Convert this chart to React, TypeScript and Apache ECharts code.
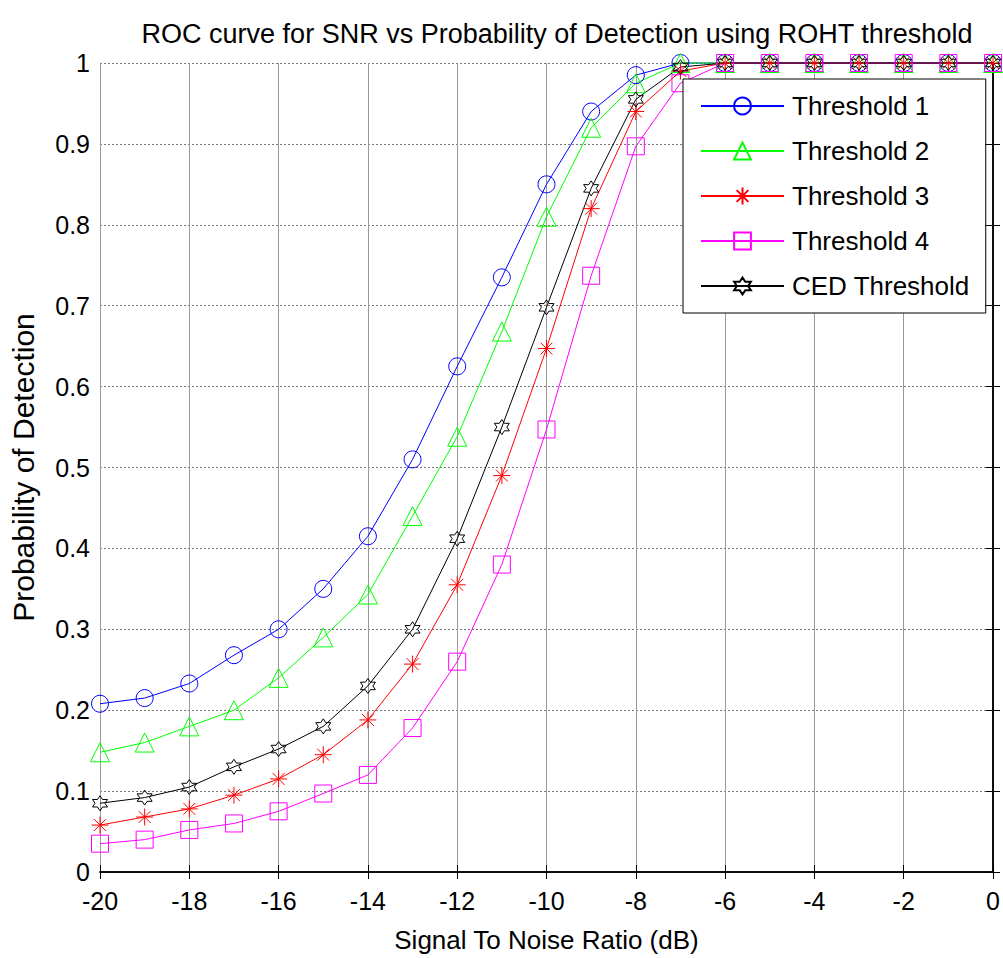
import React, { useEffect, useRef } from "react";
import * as echarts from "echarts";

const snr = [-20, -19, -18, -17, -16, -15, -14, -13, -12, -11, -10, -9, -8, -7, -6, -5, -4, -3, -2, -1, 0];
const threshold1 = [0.208, 0.215, 0.233, 0.268, 0.3, 0.35, 0.415, 0.51, 0.625, 0.735, 0.85, 0.94, 0.985, 1, 1, 1, 1, 1, 1, 1, 1];
const threshold2 = [0.148, 0.16, 0.18, 0.2, 0.24, 0.29, 0.343, 0.44, 0.538, 0.668, 0.81, 0.92, 0.975, 1, 1, 1, 1, 1, 1, 1, 1];
const threshold3 = [0.058, 0.068, 0.078, 0.095, 0.115, 0.145, 0.188, 0.257, 0.355, 0.49, 0.647, 0.82, 0.94, 0.99, 1, 1, 1, 1, 1, 1, 1];
const threshold4 = [0.035, 0.04, 0.052, 0.06, 0.075, 0.097, 0.12, 0.178, 0.26, 0.38, 0.547, 0.737, 0.897, 0.975, 1, 1, 1, 1, 1, 1, 1];
const cedThreshold = [0.085, 0.092, 0.105, 0.13, 0.152, 0.18, 0.23, 0.3, 0.412, 0.55, 0.698, 0.845, 0.955, 0.995, 1, 1, 1, 1, 1, 1, 1];

const seriesNames = ["Threshold 1", "Threshold 2", "Threshold 3", "Threshold 4", "CED Threshold"];
const seriesColors = ["#0000ff", "#00ff00", "#ff0000", "#ff00ff", "#000000"];

const FONT = "Arial, 'Liberation Sans', sans-serif";

const CIRCLE = "circle";
const TRIANGLE = "path://M0,-10 L10,7.3 L-10,7.3 Z";
const ASTERISK = "path://M0,-10 L0,10 M-10,0 L10,0 M-7,-7 L7,7 M-7,7 L7,-7";
const SQUARE = "path://M-10,-10 L10,-10 L10,10 L-10,10 Z";
const HEXAGRAM =
  "path://M0,-10 L2.887,-5 L8.66,-5 L5.77,0 L8.66,5 L2.887,5 L0,10 L-2.887,5 L-8.66,5 L-5.77,0 L-8.66,-5 L-2.887,-5 Z";

const symbols = [CIRCLE, TRIANGLE, ASTERISK, SQUARE, HEXAGRAM];
const symbolSizes = [17, 19, 17, 17, 15];

export default function App() {
  const ref = useRef<HTMLDivElement>(null);
  useEffect(() => {
    if (!ref.current) return;
    const chart = echarts.init(ref.current, undefined, { renderer: "svg" });
    const allData = [threshold1, threshold2, threshold3, threshold4, cedThreshold];
    const series = allData.map((vals, i) => ({
      name: seriesNames[i],
      type: "line",
      xAxisIndex: 0,
      yAxisIndex: 0,
      data: snr.map((x, j) => [x, vals[j]]),
      symbol: symbols[i],
      symbolSize: symbolSizes[i],
      showAllSymbol: true,
      smooth: false,
      clip: false,
      lineStyle: { color: seriesColors[i], width: 1 },
      itemStyle: { color: "rgba(0,0,0,0)", borderColor: seriesColors[i], borderWidth: 1 },
      emphasis: { disabled: true },
    }));
    const axisLabelStyle = { color: "#000", fontSize: 25, fontFamily: FONT };
    chart.setOption({
      animation: false,
      backgroundColor: "#fff",
      title: {
        text: "ROC curve for SNR vs Probability of Detection using ROHT threshold",
        left: 552,
        top: 15,
        textAlign: "center",
        textStyle: { color: "#000", fontSize: 27, fontWeight: "normal", fontFamily: FONT },
      },
      grid: { left: 100, right: 10, top: 63, bottom: 84 },
      legend: {
        orient: "vertical",
        left: 683,
        top: 79,
        backgroundColor: "#fff",
        borderColor: "#000",
        borderWidth: 1,
        padding: [14, 16, 14, 17],
        itemWidth: 83,
        itemHeight: 21,
        itemGap: 19,
        textStyle: { color: "#000", fontSize: 26, fontFamily: FONT, padding: [0, 0, 0, 3] },
        data: seriesNames,
      },
      xAxis: [
        {
          type: "value",
          min: -20,
          max: 0,
          interval: 2,
          position: "bottom",
          name: "Signal To Noise Ratio (dB)",
          nameLocation: "middle",
          nameGap: 55,
          nameTextStyle: { color: "#000", fontSize: 26, fontFamily: FONT },
          axisLine: { lineStyle: { color: "#000", width: 1.5 } },
          axisTick: { inside: true, length: 7, lineStyle: { color: "#000" } },
          axisLabel: { ...axisLabelStyle, margin: 16 },
          splitLine: { show: true, lineStyle: { color: "#999", width: 1, type: "solid" } },
        },
        {
          type: "value",
          min: -20,
          max: 0,
          interval: 2,
          position: "top",
          axisLine: { lineStyle: { color: "#000", width: 1.5 } },
          axisTick: { inside: true, length: 7, lineStyle: { color: "#000" } },
          axisLabel: { show: false },
          splitLine: { show: false },
        },
      ],
      yAxis: [
        {
          type: "value",
          min: 0,
          max: 1,
          interval: 0.1,
          position: "left",
          name: "Probability of Detection",
          nameLocation: "middle",
          nameGap: 62,
          nameTextStyle: { color: "#000", fontSize: 30, fontFamily: FONT },
          axisLine: { lineStyle: { color: "#000", width: 1.5 } },
          axisTick: { inside: true, length: 7, lineStyle: { color: "#000" } },
          axisLabel: { ...axisLabelStyle, margin: 10 },
          splitLine: { show: true, lineStyle: { color: "#777", width: 1, type: [2, 2] } },
        },
        {
          type: "value",
          min: 0,
          max: 1,
          interval: 0.1,
          position: "right",
          axisLine: { lineStyle: { color: "#000", width: 1.5 } },
          axisTick: { inside: true, length: 7, lineStyle: { color: "#000" } },
          axisLabel: { show: false },
          splitLine: { show: false },
        },
      ],
      series,
    });
    return () => chart.dispose();
  }, []);
  return (
    <div
      ref={ref}
      style={{ position: "absolute", left: 0, top: 0, width: 1003, height: 958 }}
    />
  );
}
